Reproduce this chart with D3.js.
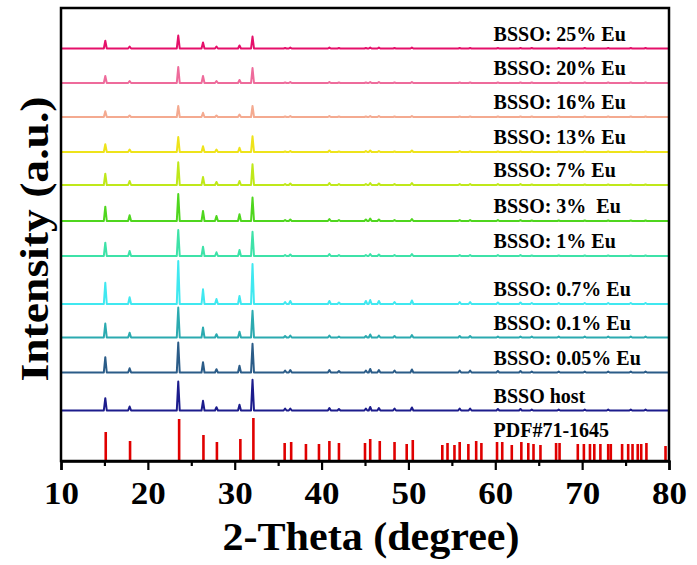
<!DOCTYPE html>
<html>
<head>
<meta charset="utf-8">
<script src="https://cdn.jsdelivr.net/npm/d3@7"></script>
<style>
  body { margin: 0; background: #fff; }
  text { font-family: "Liberation Serif", "Times New Roman", serif; font-weight: bold; }
</style>
</head>
<body>
<script>
// peak positions (2-theta) shared by all measured patterns
const peakPos = [15.1, 17.9, 23.5, 26.35, 27.9, 30.55, 32.05,
  35.8, 36.4, 40.9, 42.0, 45.1, 45.6, 46.6, 48.4, 50.4, 55.9, 57.1, 60.3, 62.9, 64.2, 67.3, 70.3, 73.0, 75.6, 77.3];

const samples = ["BSSO host", "BSSO: 0.05% Eu", "BSSO: 0.1% Eu", "BSSO: 0.7% Eu", "BSSO: 1% Eu",
  "BSSO: 3%  Eu", "BSSO: 7% Eu", "BSSO: 13% Eu", "BSSO: 16% Eu", "BSSO: 20% Eu", "BSSO: 25% Eu"];

// vertical stacking offset of each pattern (a.u.)
const offsets = [50.5, 88.5, 123.5, 157, 205, 240, 276, 309, 344, 378, 412.5];

// peak heights for each sample, same order as peakPos
const heights = [
  [12.3, 4, 29, 9.7, 3.3, 5.7, 30.7, 2, 2, 2.5, 1.5, 2, 3.5, 2.5, 2, 3, 2, 2, 1.5, 1.5, 1, 1, 1, 1, 1, 1],
  [15.3, 4.3, 30, 10.3, 3.3, 6.7, 28.7, 2, 2.5, 2.5, 1.5, 2, 3.5, 2.5, 2, 3, 2, 2, 1.5, 1.5, 1, 1, 1, 1, 1, 1],
  [14, 4.7, 30, 10, 3.3, 5.7, 26.7, 1.5, 2, 2, 1, 1.5, 3, 2, 1.5, 2.5, 1.5, 1.5, 1, 1, 1, 1, 1, 1, 1, 1],
  [21.3, 6.7, 43, 14.7, 5, 8, 40, 2, 3, 3, 1.5, 3, 4, 3, 2, 3.5, 2, 2, 1.5, 1.5, 1, 1, 1, 1, 1, 1],
  [13.3, 5, 26, 9.3, 3.7, 6, 24.3, 1, 1.5, 2, 1, 1, 2, 1.5, 1, 2, 1, 1, 1, 1, 0.5, 0.5, 0.5, 0.5, 0.5, 0.5],
  [14.3, 5.7, 27, 10, 5, 6.7, 23.5, 1, 1.5, 2, 1, 1.5, 2.5, 1.5, 1, 2, 1, 1, 1, 1, 0.5, 0.5, 0.5, 0.5, 0.5, 0.5],
  [11.3, 4, 22.7, 8, 3, 4, 20.7, 1, 1.5, 2, 1, 1, 2, 1.5, 1, 2, 1, 1, 1, 1, 0.5, 0.5, 0.5, 0.5, 0.5, 0.5],
  [7.7, 2.5, 15, 5.7, 2.5, 4.3, 15.7, 0.5, 1, 1.5, 0.5, 1, 1.5, 1, 0.5, 1.5, 1, 0.5, 0.5, 0.5, 0.5, 0.5, 0.5, 0.5, 0.5, 0.5],
  [5.7, 1.5, 11, 4.3, 1.5, 2.5, 11, 0.5, 1, 1, 0.5, 0.5, 1, 1, 0.5, 1, 0.5, 0.5, 0.5, 0.5, 0.5, 0.5, 0.5, 0.5, 0.5, 0.5],
  [7, 2, 16, 7, 2, 3, 15, 0.5, 1, 1, 0.5, 0.5, 1, 1, 0.5, 1, 0.5, 0.5, 0.5, 0.5, 0.5, 0.5, 0.5, 0.5, 0.5, 0.5],
  [7.7, 2, 13, 6, 2, 3, 12, 0.5, 1, 1, 0.5, 0.5, 1, 1, 0.5, 1, 0.5, 0.5, 0.5, 0.5, 0.5, 0.5, 0.5, 0.5, 0.5, 0.5]
];

const colors = ["#1c1c8c", "#2b5c88", "#2baab0", "#40e8f0", "#3ee2a8", "#4fd61e",
  "#bfe81a", "#eee31a", "#f4aa90", "#ee6b9b", "#e5106a"];

// standard card PDF#71-1645
const pdfPos = [15.15, 17.95, 23.6, 26.4, 27.95, 30.65, 32.15, 35.75, 36.5, 38.2, 39.7, 40.9, 42.0,
  45.0, 45.6, 46.7, 48.4, 49.8, 50.5, 53.9, 54.5, 55.3, 55.9, 56.9, 57.8, 58.4, 60.2, 60.8, 61.9,
  63.0, 63.8, 64.4, 65.2, 67.0, 67.4, 69.5, 70.2, 70.9, 71.4, 72.1, 73.0, 73.3, 74.6, 75.3, 75.8,
  76.4, 76.8, 77.4, 79.6];
const pdfInt = [29, 20, 42, 26, 19, 22, 43, 18, 19, 17, 17, 20, 18,
  18, 22, 20, 19, 17, 21, 16, 18, 16, 19, 17, 20, 18, 19, 19, 16,
  19, 18, 17, 16, 18, 18, 17, 17, 17, 17, 17, 17, 17, 17, 17, 17,
  17, 17, 18, 15];

const xTicks = [10, 20, 30, 40, 50, 60, 70, 80];
const xMinor = [15, 25, 35, 45, 55, 65, 75];

const w = 697, h = 565;
const m = { left: 61, right: 28, top: 8, bottom: 104 };

const svg = d3.select("body").append("svg")
  .attr("width", w)
  .attr("height", h);

const xScale = d3.scaleLinear().domain([10, 80]).range([m.left, w - m.right]);
const yScale = d3.scaleLinear().domain([0, 453]).range([h - m.bottom, m.top]);

const hw = 0.17; // half width of a peak at its base
const line = d3.line()
  .x(d => xScale(d[0]))
  .y(d => yScale(d[1]));

samples.forEach((name, i) => {
  const pts = [[10, offsets[i]]];
  peakPos.forEach((p, j) => {
    pts.push([p - hw, offsets[i]], [p, offsets[i] + heights[i][j]], [p + hw, offsets[i]]);
  });
  pts.push([80, offsets[i]]);
  svg.append("path")
    .attr("d", line(pts))
    .attr("fill", "none")
    .attr("stroke", colors[i])
    .attr("stroke-width", 2)
    .attr("stroke-linejoin", "round");

  svg.append("text")
    .attr("x", xScale(59.8))
    .attr("y", yScale(offsets[i] + 7.8))
    .attr("font-size", 20)
    .attr("xml:space", "preserve")
    .style("white-space", "pre")
    .text(name);
});

svg.selectAll(".pdf")
  .data(pdfPos)
  .enter()
  .append("line")
  .attr("class", "pdf")
  .attr("x1", d => xScale(d))
  .attr("x2", d => xScale(d))
  .attr("y1", yScale(0))
  .attr("y2", (d, i) => yScale(pdfInt[i]))
  .attr("stroke", "#e00000")
  .attr("stroke-width", 2.6);

svg.append("text")
  .attr("x", xScale(59.8))
  .attr("y", yScale(23.7))
  .attr("font-size", 20)
  .text("PDF#71-1645");

// frame
svg.append("rect")
  .attr("x", m.left)
  .attr("y", m.top)
  .attr("width", w - m.left - m.right)
  .attr("height", h - m.top - m.bottom)
  .attr("fill", "none")
  .attr("stroke", "#000")
  .attr("stroke-width", 2.5);

const xAxis = d3.axisBottom(xScale).tickValues(xTicks).tickSize(9).tickPadding(11).tickFormat(d3.format("d"));
const gx = svg.append("g")
  .attr("transform", "translate(0," + (h - m.bottom) + ")")
  .call(xAxis);
gx.select(".domain").attr("stroke-width", 2.5);
gx.selectAll(".tick line").attr("stroke-width", 2.2);
gx.selectAll(".tick text")
  .attr("font-size", 32)
  .attr("font-family", "Liberation Serif")
  .attr("font-weight", "bold")
  .attr("textLength", 35)
  .attr("lengthAdjust", "spacingAndGlyphs")
  .attr("fill", "#000");

svg.append("g")
  .attr("transform", "translate(0," + (h - m.bottom) + ")")
  .call(d3.axisBottom(xScale).tickValues(xMinor).tickSize(5).tickFormat(""))
  .call(g => g.select(".domain").remove())
  .selectAll(".tick line").attr("stroke-width", 2.2);

svg.append("text")
  .attr("x", (m.left + w - m.right) / 2 + 6)
  .attr("y", 550)
  .attr("text-anchor", "middle")
  .attr("font-size", 40)
  .attr("textLength", 297)
  .attr("lengthAdjust", "spacingAndGlyphs")
  .text("2-Theta (degree)");

svg.append("text")
  .attr("transform", "rotate(-90)")
  .attr("x", -239)
  .attr("y", 48)
  .attr("text-anchor", "middle")
  .attr("font-size", 40)
  .attr("textLength", 285)
  .attr("lengthAdjust", "spacingAndGlyphs")
  .text("Intensity (a.u.)");
</script>
</body>
</html>
